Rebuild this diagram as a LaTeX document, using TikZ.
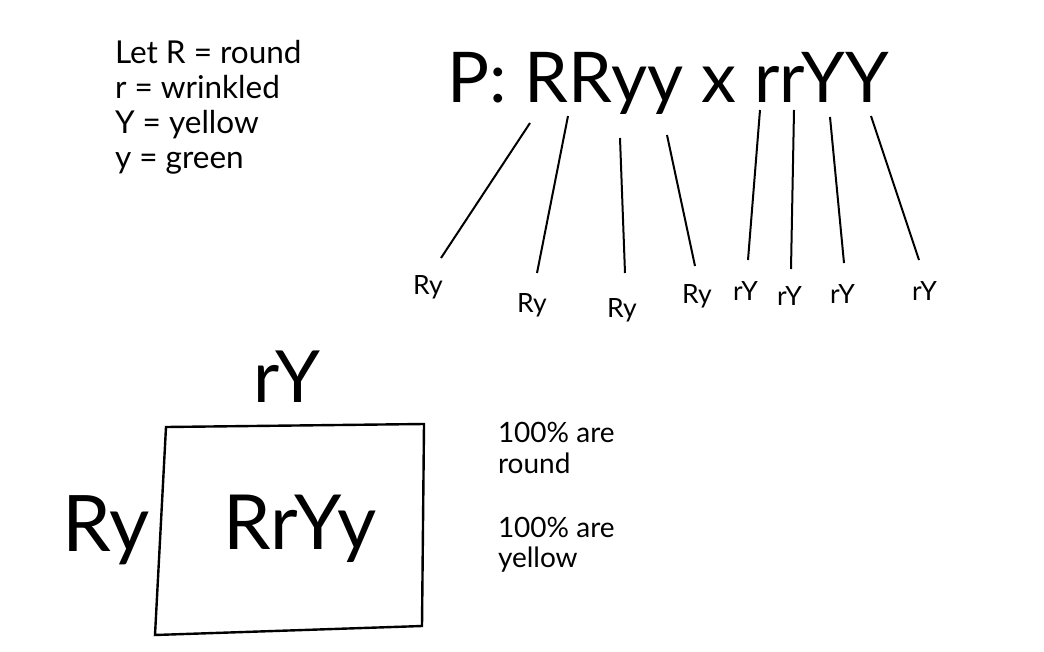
\documentclass[tikz,border=0pt]{standalone}
\usepackage{fontspec}
\setmainfont{Lato}
\begin{document}
\begin{tikzpicture}[x=1pt,y=-1pt,
  txt/.style={anchor=base west,inner sep=0pt,outer sep=0pt},
  legend/.style={txt,font=\fontsize{31.5}{35}\selectfont},
  title/.style={txt,font=\fontsize{70}{80}\selectfont},
  gamete/.style={txt,font=\fontsize{26.5}{30}\selectfont},
  big/.style={txt,font=\fontsize{76}{90}\selectfont},
  note/.style={txt,font=\fontsize{28}{31}\selectfont},
  link/.style={line width=2pt},
  cell/.style={line width=2.4pt,line join=miter}]
\useasboundingbox (0,0) rectangle (1044,651);
% legend
\node[legend] (l1) at (115,63) {Let R = round};
\node[legend] (l2) at (115,98) {r = wrinkled};
\node[legend] (l3) at (115,133) {Y = yellow};
\node[legend] (l4) at (115,168) {y = green};
% parents
\node[title] (P) at (447,102) {P: RRyy x rrYY};
% gametes
\node[gamete] (g1) at (413,294) {Ry};
\node[gamete] (g2) at (517,312) {Ry};
\node[gamete] (g3) at (607,317) {Ry};
\node[gamete] (g4) at (682,303) {Ry};
\node[gamete] (g5) at (733,300) {rY};
\node[gamete] (g6) at (777,305) {rY};
\node[gamete] (g7) at (830,303) {rY};
\node[gamete] (g8) at (912,300) {rY};
% connector ends
\coordinate (a1) at (530,123); \coordinate (b1) at (441,258);
\coordinate (a2) at (568,116); \coordinate (b2) at (537,273);
\coordinate (a3) at (620,138); \coordinate (b3) at (625,273);
\coordinate (a4) at (667,135); \coordinate (b4) at (695,266);
\coordinate (a5) at (760,110); \coordinate (b5) at (748,260);
\coordinate (a6) at (794,110); \coordinate (b6) at (791,269);
\coordinate (a7) at (830,117); \coordinate (b7) at (844,263);
\coordinate (a8) at (871,116); \coordinate (b8) at (919,260);
\foreach \i in {1,...,8} {\draw[link] (a\i) -- (b\i);}
% punnett square
\coordinate (c1) at (166,427);
\coordinate (c2) at (424,424);
\coordinate (c3) at (422,626);
\coordinate (c4) at (155,635);
\draw[cell] (c1) -- (c2) -- (c3) -- (c4) -- cycle;
\node[big,font=\fontsize{72}{90}\selectfont] (top) at (253,402) {rY};
\node[big,font=\fontsize{78}{90}\selectfont] (left) at (62,551) {Ry};
\node[big] (child) at (223,549) {RrYy};
% notes
\node[note] (n1) at (498,442) {100\% are};
\node[note] (n2) at (498,473) {round};
\node[note] (n3) at (498,537) {100\% are};
\node[note] (n4) at (498,567) {yellow};
\end{tikzpicture}
\end{document}
